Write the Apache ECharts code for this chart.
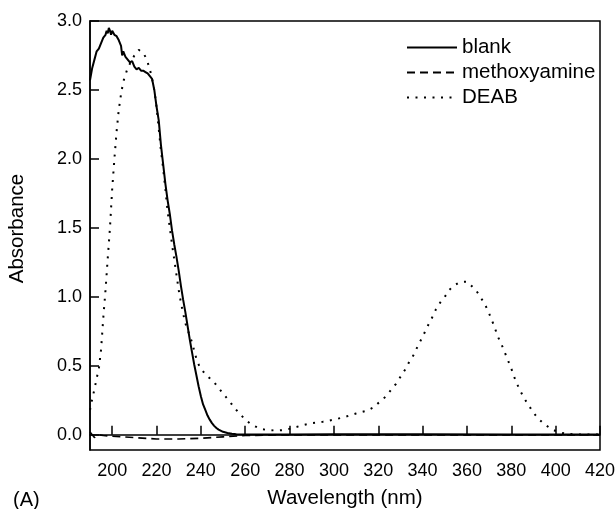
<!DOCTYPE html>
<html>
<head>
<meta charset="utf-8">
<script src="https://cdn.jsdelivr.net/npm/echarts@6/dist/echarts.min.js"></script>
<style>
html, body { margin: 0; padding: 0; background: #fff; }
#chart { width: 615px; height: 509px; }
</style>
</head>
<body>
<div id="chart"></div>
<script>
// wavelength (nm) / absorbance pairs
var blankX = [190, 191, 192, 193, 194, 195, 196, 197, 197.5, 198, 198.5, 199, 199.5, 200, 201, 202, 203, 204, 204.5, 205, 206, 207, 208, 209, 210, 211, 212, 213, 214, 215, 216, 217, 218, 219, 220, 221, 222, 223, 224, 225, 226, 227, 228, 229, 230, 231, 232, 233, 234, 235, 236, 237, 238, 239, 240, 241, 242, 243, 244, 245, 246, 247, 248, 250, 252, 254, 256, 260, 280, 300, 340, 380, 420];
var blankY = [2.57, 2.66, 2.72, 2.78, 2.80, 2.84, 2.88, 2.90, 2.93, 2.91, 2.95, 2.93, 2.90, 2.93, 2.90, 2.89, 2.86, 2.82, 2.75, 2.78, 2.74, 2.72, 2.70, 2.71, 2.67, 2.65, 2.66, 2.64, 2.64, 2.63, 2.62, 2.60, 2.58, 2.50, 2.38, 2.28, 2.10, 1.96, 1.82, 1.70, 1.60, 1.48, 1.38, 1.29, 1.19, 1.08, 0.98, 0.89, 0.79, 0.69, 0.60, 0.51, 0.43, 0.35, 0.28, 0.22, 0.18, 0.14, 0.11, 0.085, 0.065, 0.05, 0.038, 0.022, 0.013, 0.008, 0.005, 0.003, 0.003, 0.004, 0.004, 0.003, 0.003];

var methoxyX = [190, 191, 192, 193, 194, 196, 200, 210, 220, 230, 240, 250, 260, 280, 300, 340, 380, 420];
var methoxyY = [0.02, 0.0, -0.02, -0.005, 0.0, -0.005, -0.01, -0.02, -0.03, -0.03, -0.025, -0.015, -0.005, 0.0, 0.0, 0.0, 0.0, 0.0];

var deabX = [190, 191, 192, 193, 194, 195, 196, 197, 198, 199, 200, 201, 202, 203, 204, 205, 206, 207, 208, 209, 210, 211, 212, 213, 214, 215, 216, 217, 218, 219, 220, 221, 222, 223, 224, 225, 226, 227, 228, 229, 230, 231, 232, 233, 234, 235, 236, 237, 238, 239, 240, 242, 244, 246, 248, 250, 252, 254, 256, 258, 260, 262, 264, 266, 268, 270, 274, 278, 282, 286, 290, 295, 300, 305, 310, 315, 318, 320, 322, 324, 326, 328, 330, 332, 334, 336, 338, 340, 342, 344, 346, 348, 350, 352, 354, 356, 358, 360, 362, 364, 366, 368, 370, 372, 374, 376, 378, 380, 382, 384, 386, 388, 390, 392, 394, 396, 398, 400, 402, 404, 406, 410, 415, 420];
var deabY = [0.18, 0.26, 0.33, 0.41, 0.48, 0.62, 0.85, 1.05, 1.28, 1.50, 1.78, 2.00, 2.20, 2.36, 2.47, 2.56, 2.61, 2.66, 2.69, 2.72, 2.75, 2.77, 2.79, 2.78, 2.77, 2.74, 2.70, 2.65, 2.58, 2.50, 2.38, 2.22, 2.06, 1.93, 1.78, 1.62, 1.50, 1.38, 1.27, 1.16, 1.05, 0.96, 0.88, 0.81, 0.76, 0.72, 0.67, 0.61, 0.55, 0.51, 0.48, 0.44, 0.41, 0.38, 0.34, 0.30, 0.26, 0.22, 0.18, 0.145, 0.11, 0.085, 0.065, 0.05, 0.04, 0.035, 0.031, 0.035, 0.052, 0.07, 0.085, 0.095, 0.11, 0.13, 0.155, 0.175, 0.20, 0.23, 0.255, 0.29, 0.33, 0.37, 0.42, 0.47, 0.53, 0.58, 0.65, 0.71, 0.78, 0.84, 0.91, 0.96, 1.00, 1.05, 1.08, 1.10, 1.11, 1.11, 1.08, 1.05, 1.00, 0.95, 0.88, 0.80, 0.71, 0.64, 0.56, 0.48, 0.39, 0.32, 0.26, 0.21, 0.16, 0.12, 0.09, 0.065, 0.042, 0.028, 0.017, 0.01, 0.006, 0.003, 0.002, 0.002];

var xTicks = [200, 220, 240, 260, 280, 300, 320, 340, 360, 380, 400, 420];
var yTicks = [0, 0.5, 1.0, 1.5, 2.0, 2.5, 3.0];

function pairs(xs, ys) {
  return xs.map(function (x, i) { return [x, ys[i]]; });
}

var chart = echarts.init(document.getElementById('chart'));
var font = '"Liberation Sans", Arial, sans-serif';

var option = {
  animation: false,
  title: {
    text: '(A)',
    left: 8,
    top: 485,
    textStyle: { fontFamily: font, fontSize: 20, fontWeight: 'normal', color: '#000' }
  },
  legend: {
    orient: 'vertical',
    left: 401,
    top: 32,
    itemWidth: 50,
    itemHeight: 14,
    itemGap: 4,
    itemStyle: { opacity: 0 },
    data: ['blank', 'methoxyamine', 'DEAB'],
    textStyle: { fontFamily: font, fontSize: 20.5, color: '#000' }
  },
  grid: {
    left: 90,
    right: 15,
    top: 21,
    bottom: 59,
    outerBoundsMode: 'none',
    show: true,
    borderColor: '#000',
    borderWidth: 1.5
  },
  xAxis: {
    type: 'value',
    min: 190,
    max: 420,
    name: 'Wavelength (nm)',
    nameLocation: 'middle',
    nameGap: 38,
    nameTextStyle: { fontFamily: font, fontSize: 20.5, color: '#000' },
    axisLine: { lineStyle: { color: '#000', width: 1.5 } },
    axisTick: { inside: true, length: 9, customValues: xTicks, lineStyle: { color: '#000', width: 1.5 } },
    axisLabel: { customValues: xTicks, margin: 12, fontFamily: font, fontSize: 18, color: '#000' },
    splitLine: { show: false }
  },
  yAxis: {
    type: 'value',
    min: -0.11,
    max: 3.0,
    name: 'Absorbance',
    nameLocation: 'middle',
    nameGap: 62,
    nameTextStyle: { fontFamily: font, fontSize: 20.5, color: '#000', padding: [0, 0, 0, 14] },
    axisLine: { show: true, lineStyle: { color: '#000', width: 1.5 } },
    axisTick: { show: true, inside: true, length: 9, customValues: yTicks, lineStyle: { color: '#000', width: 1.5 } },
    axisLabel: {
      customValues: yTicks,
      margin: 8,
      fontFamily: font,
      fontSize: 18,
      color: '#000',
      formatter: function (v) { return v.toFixed(1); }
    },
    splitLine: { show: false }
  },
  series: [
    {
      name: 'blank',
      type: 'line',
      symbol: 'none',
      color: '#000',
      lineStyle: { color: '#000', width: 2 },
      data: pairs(blankX, blankY)
    },
    {
      name: 'methoxyamine',
      type: 'line',
      symbol: 'none',
      color: '#000',
      lineStyle: { color: '#000', width: 1.6, type: [8, 5] },
      data: pairs(methoxyX, methoxyY)
    },
    {
      name: 'DEAB',
      type: 'line',
      symbol: 'none',
      color: '#000',
      lineStyle: { color: '#000', width: 2, type: [2, 6.5] },
      data: pairs(deabX, deabY)
    }
  ]
};
chart.setOption(option);
</script>
</body>
</html>
